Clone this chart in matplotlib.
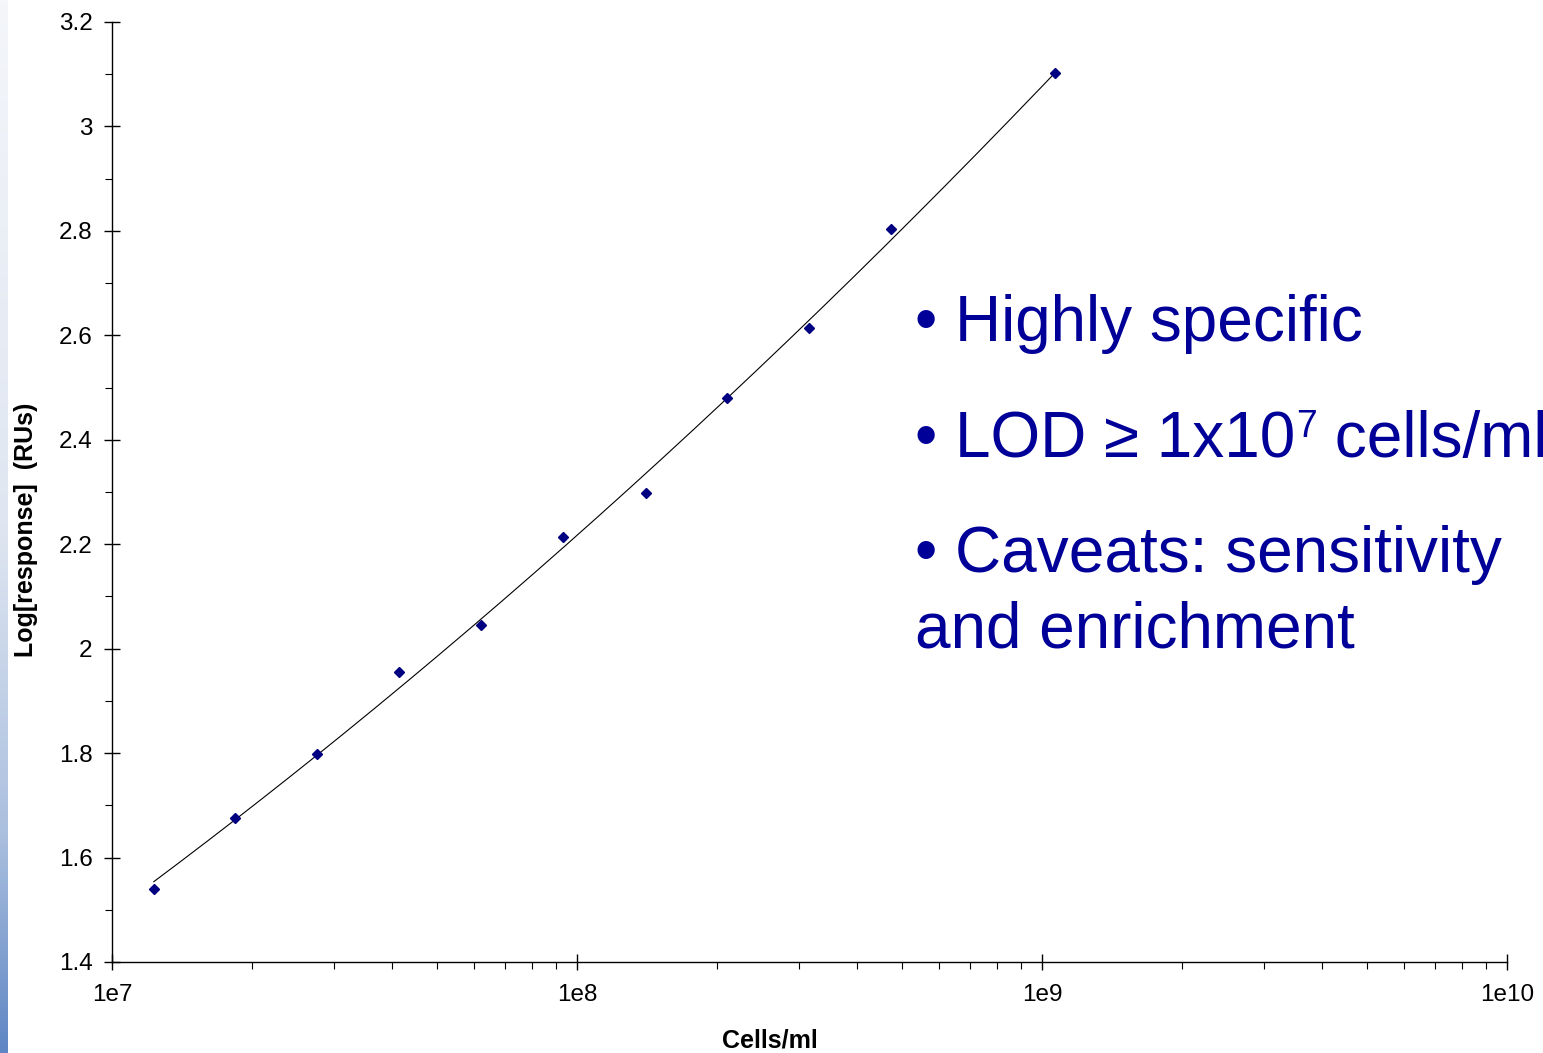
import numpy as np
import matplotlib.pyplot as plt
from matplotlib.colors import LinearSegmentedColormap
from matplotlib.ticker import LogLocator, FixedLocator, NullFormatter

plt.rcParams['font.family'] = ['Liberation Sans', 'DejaVu Sans']

# dilution series: cell concentration vs log response
cells = [1.23e7, 1.84e7, 2.76e7, 4.14e7, 6.22e7, 9.33e7, 1.41e8, 2.10e8,
         3.16e8, 4.73e8, 1.066e9]
log_resp = [1.540, 1.676, 1.798, 1.955, 2.045, 2.214, 2.298, 2.480,
            2.614, 2.804, 3.102]

x_ticks = [1e7, 1e8, 1e9, 1e10]
x_ticklabels = ['1e7', '1e8', '1e9', '1e10']
y_ticks = [1.4, 1.6, 1.8, 2.0, 2.2, 2.4, 2.6, 2.8, 3.0, 3.2]
y_ticklabels = ['1.4', '1.6', '1.8', '2', '2.2', '2.4', '2.6', '2.8', '3', '3.2']

navy = '#000080'
text_blue = '#000099'

fig = plt.figure(figsize=(15.43, 10.53), dpi=100)
W, H = 1543, 1053

# slide edge strip
strip = fig.add_axes([0, 0, 8 / W, 1])
strip_cmap = LinearSegmentedColormap.from_list(
    'edge', [(0.0, '#f4f6fa'), (0.5, '#dfe6f1'), (0.8, '#a9bede'), (1.0, '#5f86c4')])
strip.imshow(np.linspace(0, 1, 256).reshape(-1, 1), aspect='auto', cmap=strip_cmap)
strip.axis('off')

ax = fig.add_axes([112 / W, 1 - 962 / H, (1507 - 112) / W, (962 - 22) / H])

lx = np.log10(cells)
coef = np.polyfit(lx, log_resp, 2)
xs = np.linspace(lx.min(), lx.max(), 200)
ax.plot(10 ** xs, np.polyval(coef, xs), color='black', lw=0.8)
ax.plot(cells, log_resp, linestyle='none', marker='D', ms=5, color=navy, mec=navy)

ax.set_xscale('log')
ax.set_xlim(1e7, 1e10)
ax.set_ylim(1.4, 3.2)
ax.set_xticks(x_ticks)
ax.set_xticklabels(x_ticklabels)
ax.xaxis.set_minor_locator(LogLocator(base=10, subs=np.arange(2, 10), numticks=20))
ax.xaxis.set_minor_formatter(NullFormatter())
ax.set_yticks(y_ticks)
ax.set_yticklabels(y_ticklabels)
ax.yaxis.set_minor_locator(FixedLocator(np.arange(1.5, 3.2, 0.2)))

for s in ['top', 'right']:
    ax.spines[s].set_visible(False)
for s in ['left', 'bottom']:
    ax.spines[s].set_linewidth(1.0)

ax.tick_params(which='major', direction='inout', length=12, width=1.0,
               labelsize=17.5)
ax.tick_params(axis='x', which='major', pad=10)
ax.tick_params(axis='y', which='major', pad=8)
ax.tick_params(which='minor', direction='out', length=5, width=0.8)

ax.set_xlabel('Cells/ml', fontsize=18, fontweight='bold')
ax.xaxis.set_label_coords((770 - 112) / 1395, (962 - 1028) / 940)
ax.set_ylabel('Log[response]  (RUs)', fontsize=18, fontweight='bold')
ax.yaxis.set_label_coords((38 - 112) / 1395, (962 - 530) / 940)

# bullet list on the right
fs = 46
x0 = 915 / W
fig.text(x0, 1 - 341 / H, '\u2022 Highly specific', fontsize=fs, color=text_blue,
         va='baseline')
fig.text(x0, 1 - 572 / H, '\u2022 Caveats: sensitivity', fontsize=fs, color=text_blue,
         va='baseline')
fig.text(x0, 1 - 648 / H, 'and enrichment', fontsize=fs, color=text_blue,
         va='baseline')

# LOD line with a small raised exponent
renderer = fig.canvas.get_renderer()
yb = 1 - 457 / H
t1 = fig.text(x0, yb, '\u2022 LOD \u2265 1x10', fontsize=fs, color=text_blue,
              va='baseline')
x1 = t1.get_window_extent(renderer).x1 / fig.bbox.width
t2 = fig.text(x1 + 1 / W, yb + 20 / H, '7', fontsize=27, color=text_blue,
              va='baseline')
x2 = t2.get_window_extent(renderer).x1 / fig.bbox.width
fig.text(x2, yb, ' cells/ml', fontsize=fs, color=text_blue, va='baseline')

fig.savefig('out.png', dpi=100)
